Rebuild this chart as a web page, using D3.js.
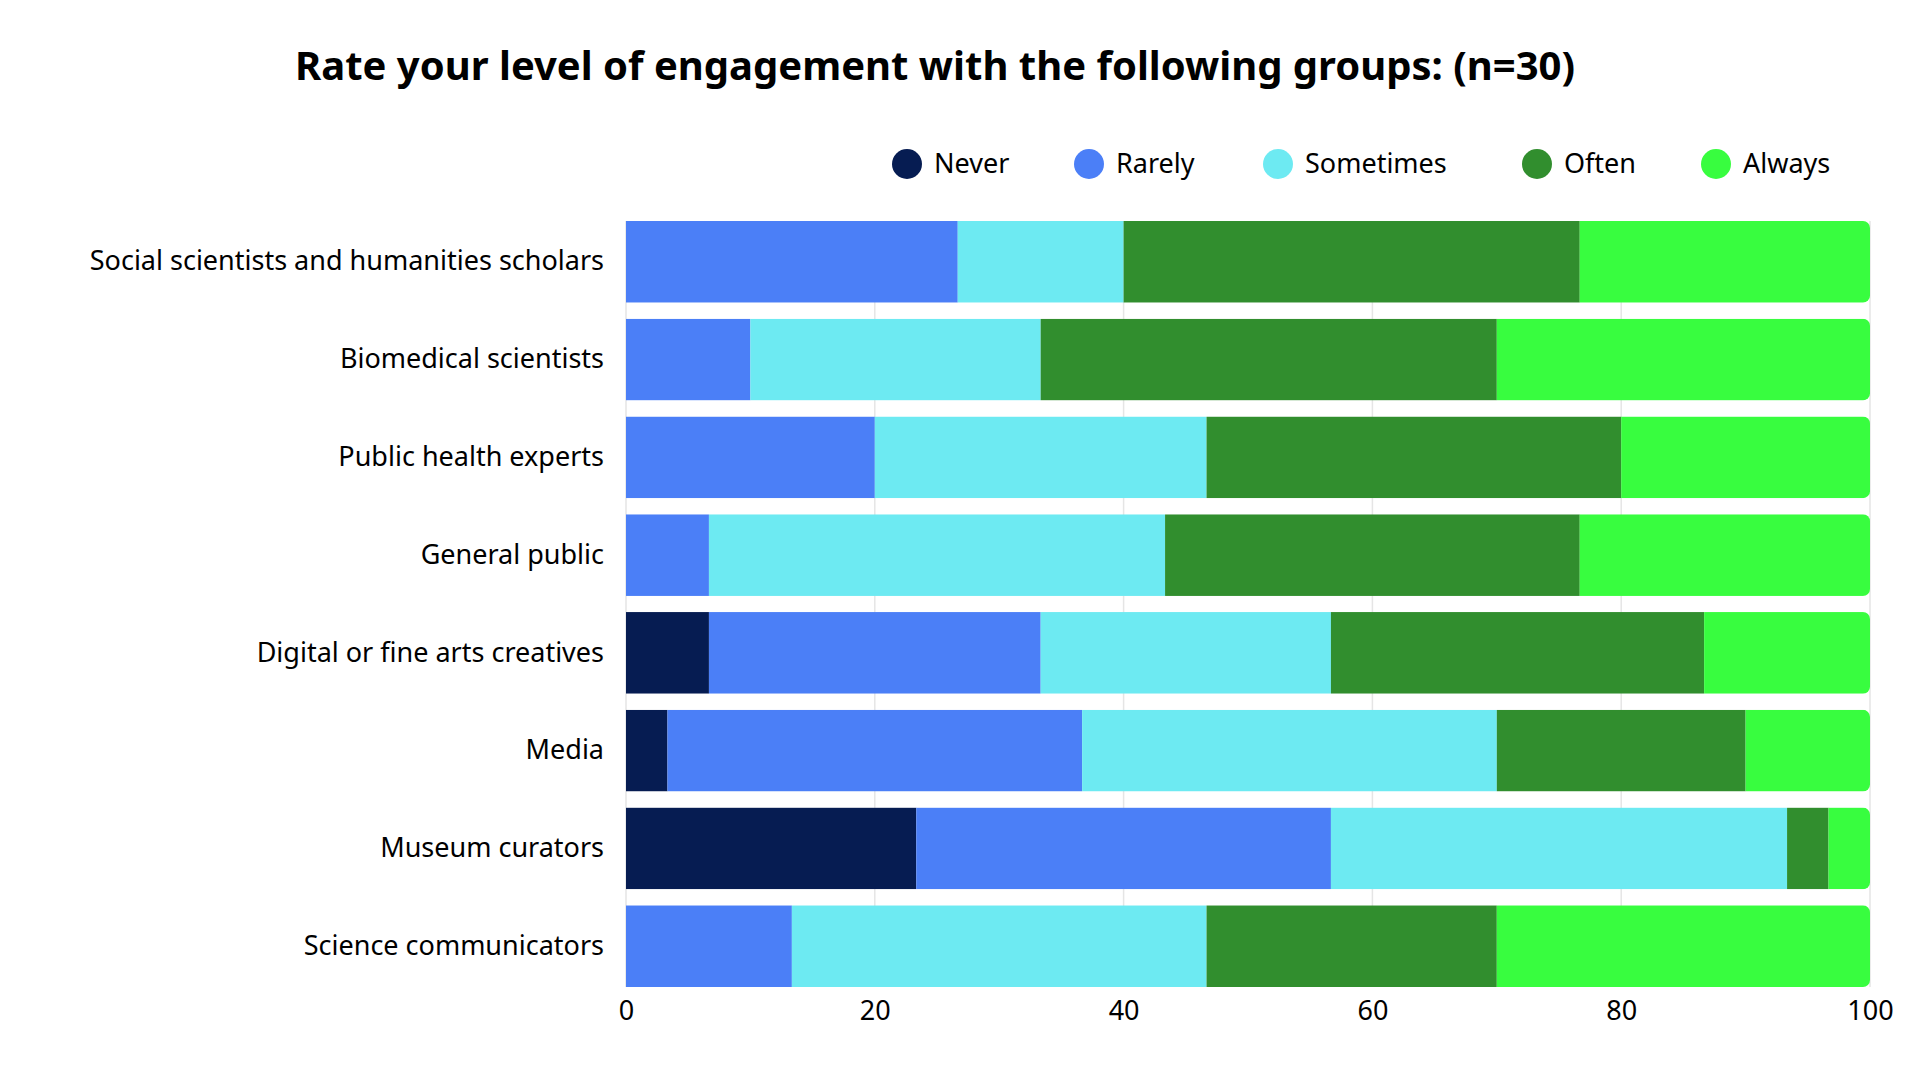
<!DOCTYPE html>
<html><head><meta charset="utf-8">
<script src="https://cdn.jsdelivr.net/npm/d3@7"></script>
<style>body{margin:0;background:#fff;font-family:"Noto Sans",sans-serif;}</style>
</head><body><svg id="c" width="1920" height="1080"></svg>
<script>
const categories = ['Social scientists and humanities scholars','Biomedical scientists','Public health experts','General public','Digital or fine arts creatives','Media','Museum curators','Science communicators'];
const seriesNames = ['Never','Rarely','Sometimes','Often','Always'];
const colors = ['#061c52','#4b7ff7','#6deaf2','#318e2e','#38fd3f'];
// counts out of n=30
const never     = [0,0,0,0,2,1,7,0];
const rarely    = [8,3,6,2,8,10,10,4];
const sometimes = [4,7,8,11,7,10,11,10];
const often     = [11,11,10,10,9,6,1,7];
const always    = [7,9,6,7,4,3,1,9];
const xTicks = [0,20,40,60,80,100];
const n = 30;

const svg = d3.select('#c');
const m = {top:221, right:50, bottom:93, left:626};
const W = 1920, H = 1080;
const x = d3.scaleLinear().domain([0,100]).range([m.left, W-m.right]);
const y = d3.scaleBand().domain(categories).range([m.top, H-m.bottom]).paddingInner(0.165).paddingOuter(0);

svg.append('text').attr('x',W/2 - 25).attr('y',80).attr('text-anchor','middle')
  .attr('font-size',40).attr('font-weight','bold').text('Rate your level of engagement with the following groups: (n=30)');

// grid
svg.append('g').selectAll('line').data(xTicks).join('line')
  .attr('x1',d=>x(d)).attr('x2',d=>x(d)).attr('y1',m.top).attr('y2',H-m.bottom)
  .attr('stroke','#e5e5e5').attr('stroke-width',1.5);

const series = [never,rarely,sometimes,often,always];
const rows = categories.map((c,i)=>{
  let acc=0; return series.map((s,k)=>{const v=s[i]/n*100; const r={c,k,x0:acc,x1:acc+v}; acc+=v; return r;});
});
const defs = svg.append('defs');
categories.forEach((c,i)=>{
  defs.append('clipPath').attr('id','clip'+i).append('rect')
    .attr('x',x(0)-10).attr('y',y(c)).attr('width',x(100)-x(0)+10).attr('height',y.bandwidth()).attr('rx',7);
});
rows.forEach((r,i)=>{
  svg.append('g').attr('clip-path',`url(#clip${i})`).selectAll('rect').data(r.filter(d=>d.x1>d.x0)).join('rect')
    .attr('x',d=>x(d.x0)).attr('width',d=>x(d.x1)-x(d.x0)).attr('y',y(r[0].c)).attr('height',y.bandwidth())
    .attr('fill',d=>colors[d.k]);
});

// axes
const ax = svg.append('g').attr('transform',`translate(0,${H-m.bottom})`).call(d3.axisBottom(x).tickValues(xTicks).tickSize(0).tickPadding(14));
ax.select('.domain').remove();
ax.selectAll('text').attr('font-size',27).attr('fill','#000').attr('font-family','Noto Sans');
const ay = svg.append('g').attr('transform',`translate(${m.left},0)`).call(d3.axisLeft(y).tickSize(0).tickPadding(22));
ay.select('.domain').remove();
ay.selectAll('text').attr('font-size',27).attr('fill','#000').attr('font-family','Noto Sans');

// legend
const legX = [907,1089,1278,1537,1716];
const lg = svg.append('g').selectAll('g').data(seriesNames).join('g').attr('transform',(d,i)=>`translate(${legX[i]},164)`);
lg.append('circle').attr('r',15).attr('fill',(d,i)=>colors[i]);
lg.append('text').attr('x',27).attr('dy','0.35em').attr('font-size',27).text(d=>d);
</script></body></html>
